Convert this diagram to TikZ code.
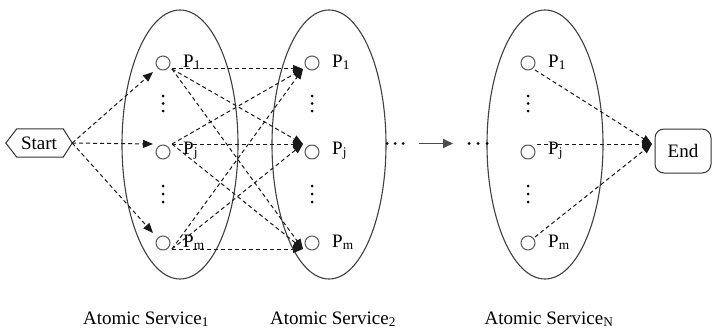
\documentclass[tikz,border=0pt]{standalone}
\usepackage{fontspec}
\setmainfont{Liberation Serif}
\usetikzlibrary{arrows.meta}
\begin{document}
\begin{tikzpicture}[x=1pt,y=-1pt,
  every node/.style={font=\fontsize{19}{21}\selectfont},
  svc/.style={draw=black!75, line width=1.1pt},
  pt/.style={draw=black!65, line width=1pt, circle, minimum size=14pt, inner sep=0pt},
  lab/.style={anchor=base west, inner sep=0pt},
  bottomlab/.style={anchor=base, inner sep=0pt},
  conn/.style={dash pattern=on 4pt off 3pt, line width=1pt, draw=black!90, -{Triangle[length=10pt,width=8pt]}},
  gaparrow/.style={line width=1.8pt, draw=black!70, -{Triangle[length=10pt,width=9pt]}},
  dotmark/.style={fill=black}]
\useasboundingbox (0,0) rectangle (712,329);

% ellipses
\draw[svc] (180,144.5) ellipse [x radius=58, y radius=134.5];
\draw[svc] (329,144.5) ellipse [x radius=57, y radius=134.5];
\draw[svc] (545,144.5) ellipse [x radius=58, y radius=134.5];

% start and end
\node[minimum width=66pt, minimum height=28pt, inner sep=0pt] (start) at (39,143) {Start};
\draw[draw=black!80, line width=1pt] (start.west) -- ([xshift=11pt]start.north west) -- ([xshift=-9pt]start.north east)
  -- (start.east) -- ([xshift=-9pt]start.south east) -- ([xshift=11pt]start.south west) -- cycle;
\node[draw=black!80, line width=1pt, rounded corners=9pt, minimum width=56pt, minimum height=44pt, inner sep=0pt] (end) at (683,151) {End};

% circles
\foreach \s/\x in {a/163, b/312, c/528}{
  \node[pt] (\s1) at (\x,63) {};
  \node[pt] (\s j) at (\x,152) {};
  \node[pt] (\s m) at (\x,243) {};
  \node[lab] (\s1l) at (\x+20,67) {P\textsubscript{1}};
  \node[lab] (\s jl) at (\x+20,154) {P\textsubscript{j}};
  \node[lab] (\s ml) at (\x+20,247) {P\textsubscript{m}};
  \foreach \yy in {96,103.5,111,186,194,202}{
    \fill[dotmark] (\x,\yy) circle (1.5pt);
  }
}

% ports
\coordinate (a1in) at (153,72);
\coordinate (ajin) at (153,144);
\coordinate (amin) at (153,233);
\coordinate (a1out) at (172,69);
\coordinate (ajout) at (172,144);
\coordinate (amout) at (172,249);
\coordinate (b1in) at (303,69);
\coordinate (bjin) at (303,144);
\coordinate (bmin) at (303,249);
\coordinate (c1out) at (535,70);
\coordinate (cjout) at (537,144);
\coordinate (cmout) at (535,237);
\coordinate (endin) at (652,144);

% start -> service 1
\foreach \t in {a1in, ajin, amin}{
  \draw[conn] (start.east) -- (\t);
}
% service 1 -> service 2
\foreach \s in {a1out, ajout, amout}{
  \foreach \t in {b1in, bjin, bmin}{
    \draw[conn] (\s) -- (\t);
  }
}
% service N -> end
\foreach \s in {c1out, cjout, cmout}{
  \draw[conn] (\s) -- (endin);
}

% gap between service 2 and service N
\foreach \xx in {387,395,403,469,478,487}{
  \fill[dotmark] (\xx,143.5) circle (1.5pt);
}
\coordinate (gapL) at (419,143.5);
\coordinate (gapR) at (453,143.5);
\draw[gaparrow] (gapL) -- (gapR);

% bottom labels
\node[bottomlab] (l1) at (146,324) {Atomic Service\textsubscript{1}};
\node[bottomlab] (l2) at (333,324) {Atomic Service\textsubscript{2}};
\node[bottomlab] (lN) at (549,324) {Atomic Service\textsubscript{N}};
\end{tikzpicture}
\end{document}
